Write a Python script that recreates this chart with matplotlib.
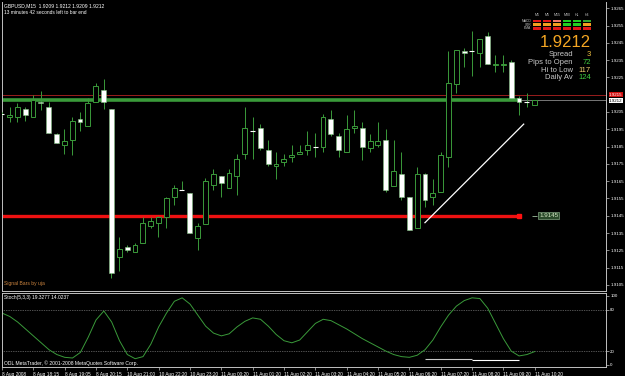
import numpy as np
import matplotlib.pyplot as plt
from matplotlib.patches import Rectangle

plt.rcParams['font.family'] = ['Liberation Sans', 'DejaVu Sans']

W, H = 625, 376

# ---- M15 candles ----
opens = [1.9204, 1.9202, 1.9202, 1.9207, 1.9202, 1.9211, 1.9208, 1.9192, 1.9186, 1.9189,
         1.9201, 1.9197, 1.9211, 1.9218, 1.9207, 1.9121, 1.9127, 1.9124, 1.9129, 1.9139,
         1.9141, 1.9144, 1.9156, 1.9160, 1.9158, 1.9132, 1.9140, 1.9163, 1.9168, 1.9161,
         1.9168, 1.9181, 1.9194, 1.9196, 1.9183, 1.9174, 1.9176, 1.9179, 1.9181, 1.9183,
         1.9185, 1.9185, 1.9201, 1.9191, 1.9182, 1.9196, 1.9196, 1.9184, 1.9186, 1.9189,
         1.9162, 1.9169, 1.9156, 1.9138, 1.9169, 1.9156, 1.9159, 1.9179, 1.9221, 1.9240,
         1.9240, 1.9239, 1.9249, 1.9232, 1.9232, 1.9234, 1.9213, 1.9211, 1.9209]
highs = [1.9205, 1.9208, 1.9210, 1.9208, 1.9215, 1.9217, 1.9211, 1.9193, 1.9195, 1.9202,
         1.9205, 1.9213, 1.9222, 1.9224, 1.9207, 1.9133, 1.9128, 1.9129, 1.9144, 1.9144,
         1.9145, 1.9156, 1.9163, 1.9165, 1.9158, 1.9141, 1.9167, 1.9172, 1.9168, 1.9172,
         1.9181, 1.9208, 1.9202, 1.9198, 1.9189, 1.9182, 1.9181, 1.9186, 1.9186, 1.9194,
         1.9193, 1.9204, 1.9206, 1.9193, 1.9203, 1.9206, 1.9199, 1.9192, 1.9199, 1.9195,
         1.9189, 1.9182, 1.9156, 1.9173, 1.9170, 1.9166, 1.9182, 1.9240, 1.9241, 1.9242,
         1.9252, 1.9247, 1.9251, 1.9238, 1.9238, 1.9235, 1.9214, 1.9216, 1.9212]
lows = [1.9203, 1.9199, 1.9199, 1.9200, 1.9202, 1.9206, 1.9193, 1.9187, 1.9181, 1.9180,
        1.9194, 1.9197, 1.9211, 1.9207, 1.9109, 1.9113, 1.9124, 1.9124, 1.9129, 1.9138,
        1.9133, 1.9138, 1.9151, 1.9160, 1.9135, 1.9125, 1.9140, 1.9160, 1.9156, 1.9161,
        1.9157, 1.9178, 1.9178, 1.9183, 1.9174, 1.9166, 1.9174, 1.9176, 1.9181, 1.9180,
        1.9179, 1.9182, 1.9191, 1.9179, 1.9182, 1.9193, 1.9177, 1.9182, 1.9185, 1.9159,
        1.9162, 1.9154, 1.9137, 1.9138, 1.9150, 1.9151, 1.9159, 1.9173, 1.9216, 1.9231,
        1.9226, 1.9231, 1.9233, 1.9228, 1.9228, 1.9213, 1.9203, 1.9208, 1.9209]
closes = [1.9204, 1.9203, 1.9208, 1.9203, 1.9212, 1.9210, 1.9193, 1.9187, 1.9188, 1.9200,
          1.9199, 1.9210, 1.9220, 1.9211, 1.9112, 1.9126, 1.9125, 1.9128, 1.9141, 1.9142,
          1.9144, 1.9155, 1.9161, 1.9160, 1.9135, 1.9139, 1.9165, 1.9169, 1.9164, 1.9170,
          1.9178, 1.9196, 1.9194, 1.9184, 1.9175, 1.9175, 1.9178, 1.9180, 1.9182, 1.9186,
          1.9185, 1.9202, 1.9192, 1.9183, 1.9195, 1.9197, 1.9185, 1.9188, 1.9188, 1.9160,
          1.9171, 1.9156, 1.9137, 1.9169, 1.9154, 1.9158, 1.9180, 1.9222, 1.9241, 1.9239,
          1.9240, 1.9247, 1.9233, 1.9233, 1.9233, 1.9213, 1.9211, 1.9211, 1.9212]

stoch_k = [75, 70, 62, 52, 42, 32, 22, 15, 11, 10,
           18, 40, 65, 78, 62, 35, 15, 9, 12, 30,
           55, 75, 92, 97, 88, 72, 56, 46, 42, 45,
           55, 63, 68, 66, 56, 44, 35, 32, 36, 48,
           60, 66, 64, 58, 52, 45, 38, 32, 26, 20,
           15, 12, 11, 14, 22, 36, 55, 72, 85, 93,
           97, 96, 82, 60, 38, 20, 13, 15, 19.3277]
stoch_signal = 14.0237

time_labels = ["8 Aug 2008", "8 Aug 18:15", "8 Aug 19:05", "8 Aug 20:15", "10 Aug 21:00",
               "10 Aug 22:20", "10 Aug 23:20", "11 Aug 00:20", "11 Aug 01:20", "11 Aug 02:20",
               "11 Aug 03:20", "11 Aug 04:20", "11 Aug 05:20", "11 Aug 06:20", "11 Aug 07:20",
               "11 Aug 08:20", "11 Aug 09:20", "11 Aug 10:20"]

ask_price = 1.9215
bid_price = 1.9212
green_level = 1.9212
support_level = 1.9145
level_end_bar = 66
trend_bars = [54, 66.6]
trend_prices = [1.9141, 1.9198]
stoch_marks = [(54, 60, 9, '#c8c8c8'), (60, 66, 7, 'white')]

# signal bars panel
tf_names = ["M1", "M5", "M15", "M30", "H1", "H4"]
ind_names = ["MACD", "STR", "EMA"]
signal_colors = [['#e01818', '#e01818', '#f07868', '#22d022', '#22d022', '#30a830'],
                 ['#f0a020', '#f0a020', '#f0a020', '#22d022', '#22d022', '#f0a020'],
                 ['#e01818', '#e01818', '#e01818', '#e01818', '#e01818', '#e01818']]
info_names = ["Spread", "Pips to Open", "Hi to Low", "Daily Av"]
info_values = [3, 72, 117, 124]
info_colors = ['#f0c040', '#40d040', '#f0d070', '#40d040']

GREEN = '#3a9a3a'
GRAY = '#c0c0c0'

O, Hh, L, C = map(np.array, (opens, highs, lows, closes))
x = np.arange(len(O))


def box(l, t, r, b):
    return [l / W, 1 - b / H, (r - l) / W, (b - t) / H]


fig = plt.figure(figsize=(W / 100, H / 100), dpi=100, facecolor='black')
ax = fig.add_axes(box(2, 2, 606, 291))
ax2 = fig.add_axes(box(2, 293, 606, 367))

for a in (ax, ax2):
    a.set_facecolor('black')
    a.set_xlim(0.04, 77.1)
    for s in a.spines.values():
        s.set_color(GRAY)
        s.set_linewidth(0.7)
    a.yaxis.tick_right()
    a.tick_params(axis='y', colors=GRAY, labelcolor='white', labelsize=3.2,
                  length=2, width=0.5, pad=1)
ax.spines['top'].set_visible(False)

# ---- Main price panel ----
ax.set_ylim(1.91015, 1.92686)
yt = [round(1.9105 + 0.001 * k, 4) for k in range(17)]
yt = [t for t in yt if abs(t - ask_price) > 1e-6]
ax.set_yticks(yt)
ax.set_yticklabels([f"{t:.4f}" for t in yt])
ax.set_xticks([])

ax.axhline(ask_price, color='#b22222', lw=0.6, zorder=1)
ax.axhline(bid_price, color='#8a8a8a', lw=0.6, zorder=1)
ax.hlines(green_level, 0, level_end_bar, color=GREEN, lw=2.6, zorder=2)
ax.hlines(support_level, 0, level_end_bar, color='#ee1111', lw=2.4, zorder=2)
ax.plot(level_end_bar, support_level, 's', color='#ff1111', ms=3.5, zorder=2)

ax.vlines(x, L, Hh, color=GREEN, lw=0.7, zorder=3)
bull = C > O
bear = C < O
doji = C == O
ax.bar(x[bull], (C - O)[bull], bottom=O[bull], width=0.62, facecolor='black',
       edgecolor=GREEN, lw=0.7, zorder=4)
ax.bar(x[bear], (O - C)[bear], bottom=C[bear], width=0.62, facecolor='white',
       edgecolor='#7fbf7f', lw=0.4, zorder=4)
ax.hlines(C[doji], x[doji] - 0.32, x[doji] + 0.32, color='white', lw=0.8, zorder=4)

ax.plot(trend_bars, trend_prices, color='white', lw=0.9, zorder=5)

ax.hlines(support_level, level_end_bar + 1.6, level_end_bar + 2.3, color='#a0c0a0', lw=0.6)
ax.text(level_end_bar + 2.6, support_level, f"{support_level:.4f}", fontsize=4.5,
        color='#d8e8c8', va='center', ha='left',
        bbox=dict(boxstyle='square,pad=0.15', fc='#2a4a2a', ec='#7fa07f', lw=0.5))

ax.text(1.005, ask_price, f"{ask_price:.4f}", transform=ax.get_yaxis_transform(),
        fontsize=3.2, color='white', va='center', ha='left', clip_on=False,
        bbox=dict(boxstyle='square,pad=0.1', fc='#d01010', ec='none'))
ax.text(1.005, bid_price - 0.00006, f"{bid_price:.4f}", transform=ax.get_yaxis_transform(),
        fontsize=3.2, color='black', va='center', ha='left', clip_on=False,
        bbox=dict(boxstyle='square,pad=0.1', fc='white', ec='none'))

# ---- Stochastic panel ----
ax2.set_ylim(-3, 104)
ax2.set_yticks([0, 20, 80, 100])
ax2.set_yticklabels(["0", "20", "80", "100"])
for lv in (20, 80):
    ax2.axhline(lv, color='#a0a0a0', ls=(0, (1, 1.5)), lw=0.5)
ax2.plot(x, stoch_k, color=GREEN, lw=0.7)
for b0, b1, v, col in stoch_marks:
    ax2.hlines(v, b0, b1, color=col, lw=0.8)

ax2.set_xticks(x[::4])
ax2.set_xticklabels(time_labels)
ax2.tick_params(axis='x', colors=GRAY, labelcolor='white', labelsize=3.4,
                length=2.5, width=0.5, pad=1)
for lbl in ax2.get_xticklabels():
    lbl.set_ha('left')

# ---- Texts ----
def ftext(px, py, s, **kw):
    fig.text(px / W, 1 - py / H, s, **kw)


ftext(4, 6, f"GBPUSD,M15  {opens[-1]:.4f} {highs[-1]:.4f} {lows[-1]:.4f} {closes[-1]:.4f}",
      fontsize=3.6, color='white', va='center')
ftext(4, 12, "13 minutes 42 seconds left to bar end", fontsize=3.5, color='white', va='center')
ftext(4, 284, "Signal Bars by uja", fontsize=3.6, color='#cd853f', va='center')
ftext(4, 298, f"Stoch(5,3,3) {stoch_k[-1]:.4f} {stoch_signal:.4f}",
      fontsize=3.5, color='white', va='center')
ftext(4, 363, "ODL MetaTrader, \u00a9 2001-2008 MetaQuotes Software Corp.",
      fontsize=3.6, color='white', va='center')

# signal grid
for j, name in enumerate(tf_names):
    ftext(533 + 10 * j + 4, 15.5, name, fontsize=2.6, color=GRAY, ha='center', va='center')
for i, name in enumerate(ind_names):
    ftext(531, 21 + 3.6 * i, name, fontsize=2.4, color=GRAY, ha='right', va='center')
    for j in range(len(tf_names)):
        fig.add_artist(Rectangle(((533 + 10 * j) / W, 1 - (22.3 + 3.6 * i) / H), 8 / W, 2.5 / H,
                                 transform=fig.transFigure, color=signal_colors[i][j], lw=0))

ftext(591, 47, f"{closes[-1]:.4f}", fontsize=12, color='#f5a623', ha='right', va='baseline')
for i, (nm, v, c) in enumerate(zip(info_names, info_values, info_colors)):
    ftext(573, 55 + 7.5 * i, nm, fontsize=5.5, color='#c8c8c8', ha='right', va='center')
    ftext(591, 55 + 7.5 * i, str(v), fontsize=5.5, color=c, ha='right', va='center')

fig.savefig("out.png", dpi=100, facecolor='black')
